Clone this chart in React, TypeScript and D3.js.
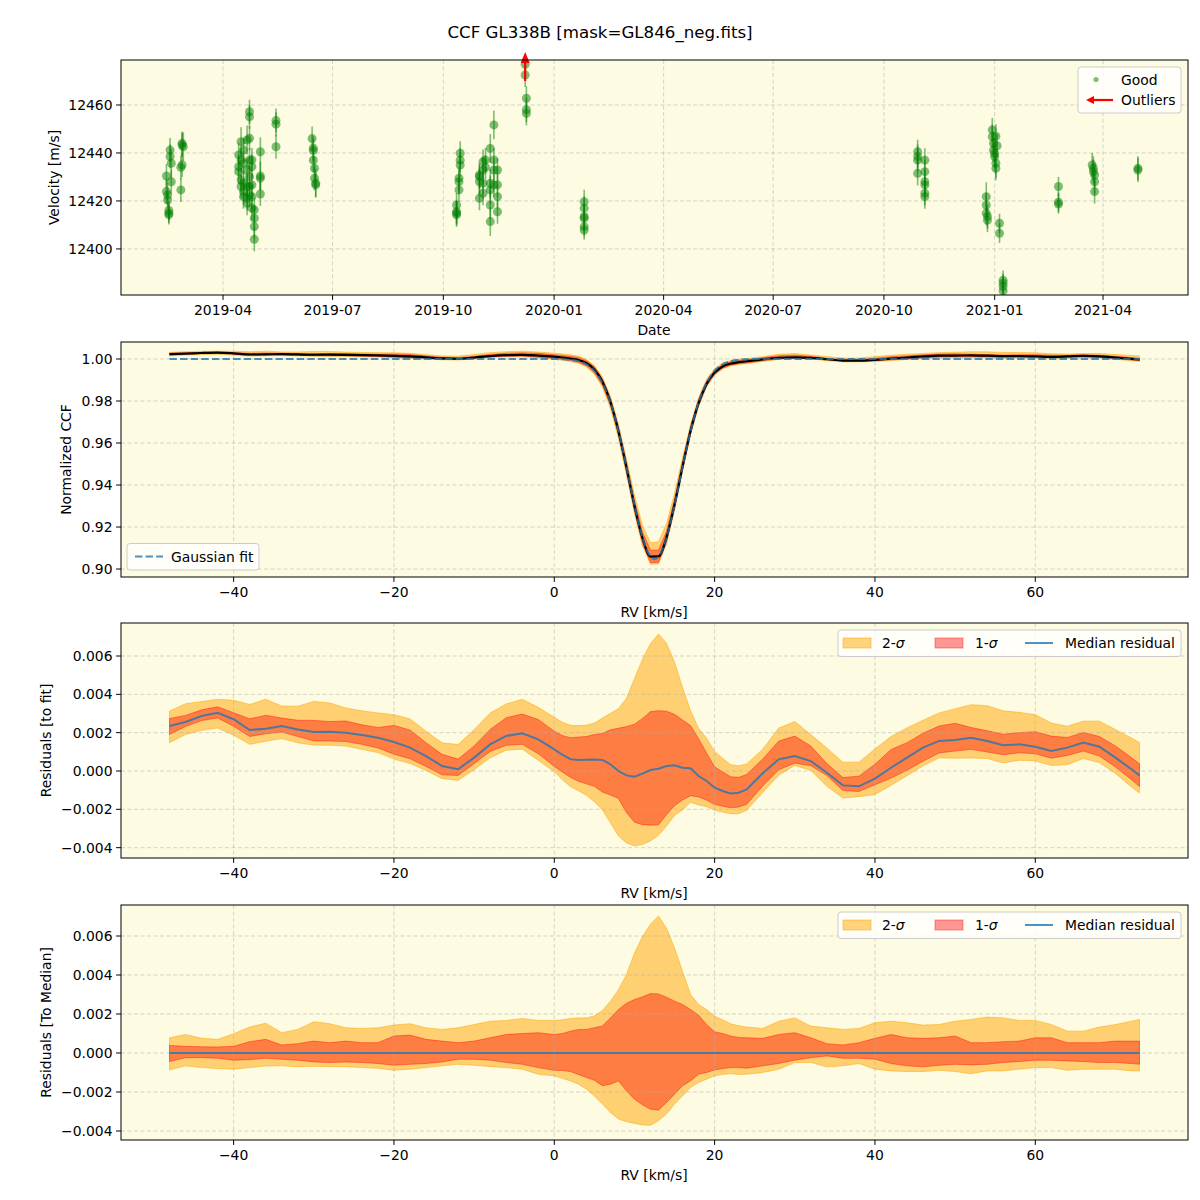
import React from "react";
import * as d3 from "d3";

// ---------------- DATA ----------------
const TITLE = "CCF GL338B [mask=GL846_neg.fits]";

// Panel 1: [date, velocity m/s, error m/s]
const GOOD_POINTS: [string, number, number][] = [
  ["2019-02-13", 12430.4, 5], ["2019-02-13", 12423.9, 5], ["2019-02-14", 12422.5, 5], ["2019-02-14", 12420.4, 4],
  ["2019-02-15", 12414.9, 4], ["2019-02-15", 12414.2, 4], ["2019-02-15", 12416.0, 4], ["2019-02-16", 12441.2, 5],
  ["2019-02-16", 12438.5, 5], ["2019-02-17", 12435.7, 6], ["2019-02-17", 12428.0, 5],
  ["2019-02-26", 12444.0, 5], ["2019-02-26", 12443.3, 5], ["2019-02-27", 12442.6, 6], ["2019-02-26", 12435.0, 5],
  ["2019-02-25", 12434.0, 5], ["2019-02-25", 12424.6, 5],
  ["2019-04-14", 12439.2, 5], ["2019-04-14", 12434.3, 5], ["2019-04-14", 12432.2, 5], ["2019-04-16", 12444.7, 6],
  ["2019-04-16", 12437.1, 5], ["2019-04-16", 12428.8, 5], ["2019-04-16", 12426.0, 5], ["2019-04-18", 12441.2, 5],
  ["2019-04-18", 12435.7, 5], ["2019-04-18", 12427.4, 5], ["2019-04-18", 12423.9, 5], ["2019-04-18", 12421.8, 5],
  ["2019-04-21", 12445.4, 6], ["2019-04-21", 12432.9, 5], ["2019-04-21", 12426.0, 5], ["2019-04-21", 12421.1, 5],
  ["2019-04-21", 12419.0, 5], ["2019-04-23", 12457.2, 5], ["2019-04-23", 12455.1, 5], ["2019-04-23", 12446.1, 5],
  ["2019-04-23", 12437.1, 5], ["2019-04-23", 12430.1, 5], ["2019-04-23", 12426.0, 5], ["2019-04-23", 12422.5, 5],
  ["2019-04-25", 12437.1, 5], ["2019-04-25", 12434.3, 5], ["2019-04-25", 12426.7, 5], ["2019-04-25", 12421.8, 5],
  ["2019-04-25", 12417.0, 5], ["2019-04-27", 12416.3, 5], ["2019-04-27", 12412.8, 5], ["2019-04-27", 12409.3, 5],
  ["2019-04-27", 12404.0, 5], ["2019-05-02", 12440.5, 6], ["2019-05-02", 12430.4, 6], ["2019-05-02", 12429.5, 5],
  ["2019-05-02", 12422.9, 5],
  ["2019-05-15", 12453.5, 5], ["2019-05-15", 12452.0, 5], ["2019-05-15", 12442.6, 5],
  ["2019-06-14", 12446.0, 5], ["2019-06-15", 12442.0, 5], ["2019-06-15", 12441.0, 5], ["2019-06-15", 12437.0, 5],
  ["2019-06-16", 12433.6, 5], ["2019-06-16", 12429.5, 5], ["2019-06-17", 12427.4, 6], ["2019-06-17", 12426.7, 5],
  ["2019-10-12", 12418.3, 5], ["2019-10-12", 12415.5, 5], ["2019-10-12", 12414.9, 5], ["2019-10-12", 12414.2, 5],
  ["2019-10-15", 12439.9, 5], ["2019-10-15", 12437.0, 5], ["2019-10-15", 12435.0, 5], ["2019-10-14", 12429.5, 5],
  ["2019-10-14", 12428.0, 5], ["2019-10-14", 12424.6, 5],
  ["2019-10-31", 12430.8, 5], ["2019-10-31", 12430.1, 5], ["2019-10-31", 12428.0, 5], ["2019-10-31", 12421.1, 5],
  ["2019-11-03", 12436.4, 5], ["2019-11-03", 12432.9, 5], ["2019-11-03", 12427.4, 5], ["2019-11-03", 12423.2, 5],
  ["2019-11-05", 12437.1, 5], ["2019-11-05", 12434.0, 5], ["2019-11-09", 12441.9, 6], ["2019-11-09", 12427.4, 6],
  ["2019-11-09", 12424.6, 6], ["2019-11-09", 12418.3, 6], ["2019-11-09", 12411.4, 6], ["2019-11-12", 12451.7, 6],
  ["2019-11-12", 12437.1, 5], ["2019-11-12", 12432.9, 5], ["2019-11-12", 12426.7, 5], ["2019-11-15", 12432.9, 5],
  ["2019-11-15", 12426.7, 5], ["2019-11-15", 12421.8, 5], ["2019-11-15", 12415.5, 5],
  ["2019-12-08", 12477.0, 5], ["2019-12-08", 12472.5, 5], ["2019-12-09", 12462.8, 5], ["2019-12-09", 12458.0, 5],
  ["2019-12-09", 12456.5, 5],
  ["2020-01-26", 12419.7, 5], ["2020-01-26", 12417.0, 5], ["2020-01-26", 12413.5, 5], ["2020-01-26", 12412.8, 5],
  ["2020-01-26", 12409.3, 4], ["2020-01-26", 12407.9, 4],
  ["2020-10-29", 12440.5, 5], ["2020-10-29", 12438.5, 5], ["2020-10-29", 12437.0, 5], ["2020-10-29", 12431.5, 5],
  ["2020-11-04", 12437.0, 5], ["2020-11-04", 12432.2, 5], ["2020-11-04", 12428.0, 5], ["2020-11-04", 12426.7, 5],
  ["2020-11-04", 12423.2, 5], ["2020-11-04", 12421.8, 5],
  ["2020-12-25", 12421.8, 6], ["2020-12-25", 12418.3, 5], ["2020-12-25", 12414.9, 5], ["2020-12-26", 12413.5, 5],
  ["2020-12-26", 12412.0, 5],
  ["2020-12-30", 12449.6, 5], ["2020-12-30", 12446.8, 5], ["2020-12-31", 12444.0, 5], ["2020-12-31", 12441.2, 5],
  ["2021-01-01", 12439.9, 6], ["2021-01-01", 12438.5, 6], ["2021-01-02", 12435.7, 6], ["2021-01-02", 12433.6, 5],
  ["2021-01-02", 12447.0, 5], ["2021-01-03", 12443.0, 5],
  ["2021-01-05", 12410.7, 4], ["2021-01-05", 12406.5, 4],
  ["2021-01-08", 12387.0, 4], ["2021-01-08", 12385.7, 4], ["2021-01-08", 12384.3, 4], ["2021-01-08", 12382.5, 4],
  ["2021-02-23", 12426.0, 4], ["2021-02-23", 12418.7, 4], ["2021-02-23", 12419.5, 4],
  ["2021-03-24", 12433.6, 5], ["2021-03-24", 12432.2, 5], ["2021-03-25", 12430.8, 5], ["2021-03-25", 12428.0, 5],
  ["2021-03-25", 12423.9, 5], ["2021-03-23", 12435.0, 5],
  ["2021-04-30", 12433.6, 5], ["2021-04-30", 12432.9, 5],
];
// outliers beyond the top of the plot: [date, arrow tail velocity]
const OUTLIERS: [string, number][] = [["2019-12-08", 12470]];

const DATE_DOMAIN: [Date, Date] = [new Date(Date.UTC(2019, 0, 6, 6)), new Date(Date.UTC(2021, 5, 10, 14))];
const DATE_TICKS = ["2019-04", "2019-07", "2019-10", "2020-01", "2020-04", "2020-07", "2020-10", "2021-01", "2021-04"];
const VEL_DOMAIN = [12380.8, 12478.75];
const VEL_TICKS = [12400, 12420, 12440, 12460];

// RV grid (km/s)
const RV = [-48, -46, -44, -42, -40, -38, -36, -34, -32, -30, -28, -26, -24, -22, -20, -18, -16, -14, -12, -10, -8, -6, -4, -2,
  0, 1, 2, 3, 4, 5, 6, 7, 8, 9, 10, 11, 12, 13, 14, 15, 16, 17, 18, 19, 20, 21, 22, 23, 24,
  26, 28, 30, 32, 34, 36, 38, 40, 42, 44, 46, 48, 50, 52, 54, 56, 58, 60, 62, 64, 66, 68, 70, 72, 73];
// median residual to fit
const MED = [0.00235, 0.00256, 0.00287, 0.00304, 0.0027, 0.00214, 0.00221, 0.00235, 0.00217, 0.00203, 0.00205, 0.002,
  0.00188, 0.00174, 0.00151, 0.00122, 0.00078, 0.00026, 0.00009, 0.0007, 0.00139, 0.00183, 0.00197, 0.00165,
  0.00113, 0.00085, 0.00062, 0.00057, 0.00059, 0.0006, 0.00058, 0.00035, 0.0, -0.00023, -0.0003, -0.00014, 0.00005,
  0.00012, 0.00026, 0.0003, 0.00017, 0.00014, -0.00026, -0.00052, -0.00087, -0.00104, -0.00117, -0.00113, -0.00096,
  -0.00012, 0.00061, 0.00078, 0.00052, -0.00009, -0.00075, -0.0008, -0.0004, 0.00017, 0.0007, 0.00122, 0.00157,
  0.00162, 0.00174, 0.00157, 0.00134, 0.00139, 0.00127, 0.00104, 0.00122, 0.00148, 0.00127, 0.0007, 0.00009, -0.00023];
// band edges relative to median
const SIG2_UP = [0.00078, 0.00095, 0.00075, 0.0007, 0.00099, 0.00133, 0.00153, 0.00104, 0.00121, 0.0016, 0.0015, 0.00129,
  0.00126, 0.00129, 0.00143, 0.0015, 0.00129, 0.00121, 0.00129, 0.00146, 0.00163, 0.00167, 0.00177, 0.00167,
  0.00167, 0.0017, 0.00177, 0.0018, 0.0018, 0.0019, 0.00218, 0.00266, 0.00325, 0.00402, 0.00512, 0.00597, 0.0066,
  0.00703, 0.0064, 0.00538, 0.00419, 0.003, 0.00249, 0.00223, 0.00189, 0.0017, 0.0015, 0.0014, 0.00133,
  0.00126, 0.00163, 0.0018, 0.00138, 0.00129, 0.00121, 0.00126, 0.00155, 0.00163, 0.00155, 0.00143, 0.00146,
  0.00163, 0.00172, 0.00184, 0.0018, 0.00167, 0.00167, 0.00146, 0.00112, 0.00112, 0.00133, 0.00146, 0.00163, 0.00172];
const SIG1_UP = [0.00039, 0.00034, 0.00032, 0.00031, 0.00034, 0.00058, 0.0007, 0.00041, 0.00048, 0.00061, 0.00053, 0.00061,
  0.00053, 0.00053, 0.00087, 0.00092, 0.0007, 0.00061, 0.00053, 0.00061, 0.00078, 0.00095, 0.001, 0.00104,
  0.00095, 0.001, 0.00112, 0.0012, 0.00121, 0.0013, 0.00138, 0.0018, 0.00223, 0.00255, 0.00274, 0.00288, 0.00305,
  0.00303, 0.00286, 0.00266, 0.00249, 0.00223, 0.00194, 0.00146, 0.00109, 0.001, 0.00087, 0.0008, 0.00078,
  0.00075, 0.00095, 0.00104, 0.00078, 0.00048, 0.00041, 0.00053, 0.00075, 0.00095, 0.00078, 0.00075, 0.00078,
  0.00087, 0.00053, 0.00053, 0.00058, 0.00061, 0.00078, 0.00078, 0.00053, 0.00053, 0.00053, 0.00061, 0.00061, 0.00061];
const SIG1_DN = [-0.00044, -0.00024, -0.00024, -0.00027, -0.00037, -0.00034, -0.00027, -0.00032, -0.00037, -0.00046, -0.00049, -0.00046,
  -0.00049, -0.00054, -0.00063, -0.00058, -0.00054, -0.00046, -0.00032, -0.00032, -0.00037, -0.00049, -0.00058, -0.00075,
  -0.00089, -0.0009, -0.00095, -0.0011, -0.00126, -0.0014, -0.00168, -0.0016, -0.00143, -0.00194, -0.00237, -0.00266, -0.00288,
  -0.00293, -0.00254, -0.00211, -0.00168, -0.00143, -0.00109, -0.001, -0.00087, -0.0008, -0.00075, -0.00075, -0.00078,
  -0.00066, -0.00054, -0.00037, -0.00024, -0.00015, -0.00027, -0.00027, -0.00032, -0.00054, -0.00066, -0.00071, -0.00063,
  -0.00058, -0.00061, -0.00058, -0.00049, -0.00044, -0.00037, -0.00037, -0.00041, -0.00044, -0.00049, -0.00049, -0.00054, -0.00058];
const SIG2_DN = [-0.00087, -0.00066, -0.00075, -0.0008, -0.00083, -0.00075, -0.00066, -0.00066, -0.0007, -0.00068, -0.0007, -0.0007,
  -0.00075, -0.00078, -0.00089, -0.00083, -0.00075, -0.00066, -0.00058, -0.00063, -0.0007, -0.00075, -0.00083, -0.00109,
  -0.00117, -0.0013, -0.00143, -0.0016, -0.00186, -0.0022, -0.00262, -0.00305, -0.00339, -0.00352, -0.00361, -0.00369, -0.0037,
  -0.00347, -0.00313, -0.00262, -0.0022, -0.00177, -0.00151, -0.00134, -0.00117, -0.0011, -0.00106, -0.0011, -0.00109,
  -0.001, -0.00083, -0.00049, -0.00049, -0.00071, -0.00066, -0.00054, -0.00083, -0.00092, -0.00095, -0.00095, -0.00089,
  -0.00095, -0.00106, -0.00092, -0.00092, -0.00083, -0.00075, -0.00075, -0.00089, -0.00083, -0.00083, -0.00083, -0.00092, -0.00092];

// Gaussian fit parameters
const FIT_BASELINE = 1.0;
const FIT_DEPTH = 0.0953;
const FIT_CENTER = 12.5;
const FIT_SIGMA = 3.15;

const RV_DOMAIN = [-54.05, 79.05];
const RV_TICKS = [-40, -20, 0, 20, 40, 60];
const CCF_DOMAIN = [0.8962, 1.0081];
const CCF_TICKS = [0.9, 0.92, 0.94, 0.96, 0.98, 1.0];
const RES_DOMAIN = [-0.004539, 0.007722];
const RESM_DOMAIN = [-0.004462, 0.00759];
const RES_TICKS = [-0.004, -0.002, 0, 0.002, 0.004, 0.006];

// ---------------- STYLE ----------------
const FONT = "DejaVu Sans";
const BG = "#fdfbe2";
const GRID = "#b0b0b0";
const FS = 13.9;

const L = 121, R = 1188, PH = 235;
const TOPS = [60, 342, 623, 905];

const minus = (s: string) => s.replace(/-/g, "\u2212");

function gauss(v: number) {
  return FIT_BASELINE - FIT_DEPTH * Math.exp(-((v - FIT_CENTER) ** 2) / (2 * FIT_SIGMA ** 2));
}

type Scale = (v: number) => number;

function Frame({ top, yScale, yTicks, yFmt, xTicks, xPos, xFmt, clipId, children }: any) {
  const bottom = top + PH;
  return (
    <g>
      {children}
      {/* spines */}
      <rect x={L} y={top} width={R - L} height={PH} fill="none" stroke="#000" strokeWidth={1} />
      {yTicks.map((t: number) => (
        <g key={"y" + t}>
          <line x1={L - 4.9} x2={L} y1={yScale(t)} y2={yScale(t)} stroke="#000" strokeWidth={1} />
          <text x={L - 8.5} y={yScale(t)} textAnchor="end" dominantBaseline="central" fontFamily={FONT} fontSize={FS}>
            {yFmt(t)}
          </text>
        </g>
      ))}
      {xTicks.map((t: any, i: number) => (
        <g key={"x" + i}>
          <line x1={xPos(t)} x2={xPos(t)} y1={bottom} y2={bottom + 4.9} stroke="#000" strokeWidth={1} />
          <text x={xPos(t)} y={bottom + 19.5} textAnchor="middle" fontFamily={FONT} fontSize={FS}>
            {xFmt(t)}
          </text>
        </g>
      ))}
    </g>
  );
}

function GridLines({ top, yScale, yTicks, xTicks, xPos }: any) {
  const bottom = top + PH;
  return (
    <g stroke={GRID} strokeOpacity={0.65} strokeWidth={0.8} strokeDasharray="4,2.5">
      {xTicks.map((t: any, i: number) => (
        <line key={"gx" + i} x1={xPos(t)} x2={xPos(t)} y1={top} y2={bottom} />
      ))}
      {yTicks.map((t: number) => (
        <line key={"gy" + t} x1={L} x2={R} y1={yScale(t)} y2={yScale(t)} />
      ))}
    </g>
  );
}

function Bands({ x, y, lo2, hi2, lo1, hi1 }: any) {
  const a2 = d3.area<number>().x((_, i) => x(RV[i])).y0((_, i) => y(lo2[i])).y1((_, i) => y(hi2[i]));
  const a1 = d3.area<number>().x((_, i) => x(RV[i])).y0((_, i) => y(lo1[i])).y1((_, i) => y(hi1[i]));
  return (
    <g>
      <path d={a2(RV) || ""} fill="orange" fillOpacity={0.5} stroke="orange" strokeOpacity={0.5} strokeWidth={1} />
      <path d={a1(RV) || ""} fill="red" fillOpacity={0.4} stroke="red" strokeOpacity={0.4} strokeWidth={1} />
    </g>
  );
}

function SigmaLegend({ top }: { top: number }) {
  const x0 = 838, y0 = top + 7, cy = y0 + 13;
  return (
    <g fontFamily={FONT} fontSize={FS}>
      <rect x={x0} y={y0} width={343} height={26.5} rx={3} fill="#fff" fillOpacity={0.8} stroke="#cccccc" strokeWidth={1} />
      <rect x={843} y={cy - 5} width={28} height={10} fill="orange" fillOpacity={0.5} stroke="orange" strokeOpacity={0.5} />
      <text x={882} y={cy} dominantBaseline="central">2-<tspan fontStyle="italic">σ</tspan></text>
      <rect x={935} y={cy - 5} width={28} height={10} fill="red" fillOpacity={0.4} stroke="red" strokeOpacity={0.4} />
      <text x={975} y={cy} dominantBaseline="central">1-<tspan fontStyle="italic">σ</tspan></text>
      <line x1={1025} x2={1053} y1={cy} y2={cy} stroke="#1f77b4" strokeOpacity={0.8} strokeWidth={2} />
      <text x={1065} y={cy} dominantBaseline="central">Median residual</text>
    </g>
  );
}

export default function App() {
  const parse = d3.utcParse("%Y-%m-%d");
  const parseM = d3.utcParse("%Y-%m");
  const xDate = d3.scaleUtc().domain(DATE_DOMAIN).range([L, R]);
  const xRV = d3.scaleLinear().domain(RV_DOMAIN).range([L, R]);

  const y1 = d3.scaleLinear().domain(VEL_DOMAIN).range([TOPS[0] + PH, TOPS[0]]);
  const y2 = d3.scaleLinear().domain(CCF_DOMAIN).range([TOPS[1] + PH, TOPS[1]]);
  const y3 = d3.scaleLinear().domain(RES_DOMAIN).range([TOPS[2] + PH, TOPS[2]]);
  const y4 = d3.scaleLinear().domain(RESM_DOMAIN).range([TOPS[3] + PH, TOPS[3]]);

  const dateTicks = DATE_TICKS.map((s) => parseM(s) as Date);
  const datePos = (d: Date) => xDate(d);
  const rvPos = (v: number) => xRV(v);

  const fmtRV = (v: number) => minus(String(v));
  const fmtCCF = (v: number) => d3.format(".2f")(v);
  const fmtRes = (v: number) => minus(d3.format(".3f")(v));

  // Panel 2 derived curves
  const fitGrid = d3.range(-48, 73.001, 0.25);
  const ccfMed = RV.map((v, i) => gauss(v) + MED[i]);
  const ccfHi2 = RV.map((v, i) => gauss(v) + MED[i] + SIG2_UP[i]);
  const ccfLo2 = RV.map((v, i) => gauss(v) + MED[i] + SIG2_DN[i]);
  const ccfHi1 = RV.map((v, i) => gauss(v) + MED[i] + SIG1_UP[i]);
  const ccfLo1 = RV.map((v, i) => gauss(v) + MED[i] + SIG1_DN[i]);

  // Panel 3
  const rHi2 = RV.map((_, i) => MED[i] + SIG2_UP[i]);
  const rLo2 = RV.map((_, i) => MED[i] + SIG2_DN[i]);
  const rHi1 = RV.map((_, i) => MED[i] + SIG1_UP[i]);
  const rLo1 = RV.map((_, i) => MED[i] + SIG1_DN[i]);

  const lineRV = (y: Scale, vals: number[], curve: any = d3.curveLinear) =>
    d3.line<number>().x((_, i) => xRV(RV[i])).y((_, i) => y(vals[i])).curve(curve)(RV) || "";

  const fitLine = d3.line<number>().x((v) => xRV(v)).y((v) => y2(gauss(v)))(fitGrid) || "";
  const zeroLine = d3.line<number>().x((v) => xRV(v)).y(() => y4(0))(RV) || "";

  const clip = (i: number) => `url(#clip${i})`;

  return (
    <svg width={1200} height={1200} viewBox="0 0 1200 1200"
      style={{ position: "absolute", left: 0, top: 0, background: "#fff" }}>
      <defs>
        {TOPS.map((t, i) => (
          <clipPath id={`clip${i}`} key={i}>
            <rect x={L} y={t} width={R - L} height={PH} />
          </clipPath>
        ))}
      </defs>
      <rect x={0} y={0} width={1200} height={1200} fill="#fff" />
      <text x={600} y={38} textAnchor="middle" fontFamily={FONT} fontSize={16.67}>{TITLE}</text>

      {/* ---------- Panel 1 ---------- */}
      <rect x={L} y={TOPS[0]} width={R - L} height={PH} fill={BG} />
      <GridLines top={TOPS[0]} yScale={y1} yTicks={VEL_TICKS} xTicks={dateTicks} xPos={datePos} />
      <g clipPath={clip(0)}>
        {GOOD_POINTS.map(([d, v, e], i) => {
          const px = xDate(parse(d) as Date);
          return (
            <g key={i}>
              <line x1={px} x2={px} y1={y1(v - e)} y2={y1(v + e)} stroke="green" strokeOpacity={0.5} strokeWidth={1.6} />
              <circle cx={px} cy={y1(v)} r={4.5} fill="green" fillOpacity={0.5} />
            </g>
          );
        })}
      </g>
      {OUTLIERS.map(([d, v], i) => {
        const px = xDate(parse(d) as Date);
        const yt = TOPS[0];
        return (
          <g key={"o" + i}>
            <line x1={px} x2={px} y1={y1(v)} y2={yt + 2} stroke="red" strokeWidth={2.2} />
            <path d={`M${px},${yt - 8} L${px - 4.5},${yt + 3} L${px + 4.5},${yt + 3} Z`} fill="red" />
          </g>
        );
      })}
      <Frame top={TOPS[0]} yScale={y1} yTicks={VEL_TICKS} yFmt={(v: number) => String(v)}
        xTicks={dateTicks} xPos={datePos} xFmt={(d: Date) => d3.utcFormat("%Y-%m")(d)} />
      {/* legend */}
      <g fontFamily={FONT} fontSize={FS}>
        <rect x={1078} y={67} width={103} height={46} rx={3} fill="#fff" fillOpacity={0.8} stroke="#cccccc" strokeWidth={1} />
        <circle cx={1096} cy={79.5} r={2.6} fill="green" fillOpacity={0.5} />
        <text x={1121} y={79.5} dominantBaseline="central">Good</text>
        <line x1={1113} x2={1093} y1={100} y2={100} stroke="red" strokeWidth={2.2} />
        <path d="M1086,100 L1094,96 L1094,104 Z" fill="red" />
        <text x={1121} y={100} dominantBaseline="central">Outliers</text>
      </g>
      <text x={654} y={335} textAnchor="middle" fontFamily={FONT} fontSize={FS}>Date</text>
      <text transform={`translate(59,${TOPS[0] + PH / 2}) rotate(-90)`} textAnchor="middle" fontFamily={FONT} fontSize={FS}>Velocity [m/s]</text>

      {/* ---------- Panel 2 ---------- */}
      <rect x={L} y={TOPS[1]} width={R - L} height={PH} fill={BG} />
      <g clipPath={clip(1)}>
        <Bands x={xRV} y={y2} lo2={ccfLo2} hi2={ccfHi2} lo1={ccfLo1} hi1={ccfHi1} />
      </g>
      <GridLines top={TOPS[1]} yScale={y2} yTicks={CCF_TICKS} xTicks={RV_TICKS} xPos={rvPos} />
      <g clipPath={clip(1)}>
        <path d={lineRV(y2, ccfMed, d3.curveMonotoneX)} fill="none" stroke="#000" strokeWidth={2.2} />
        <path d={fitLine} fill="none" stroke="#1f77b4" strokeOpacity={0.8} strokeWidth={2} strokeDasharray="7.4,3.2" />
      </g>
      <Frame top={TOPS[1]} yScale={y2} yTicks={CCF_TICKS} yFmt={fmtCCF} xTicks={RV_TICKS} xPos={rvPos} xFmt={fmtRV} />
      <g fontFamily={FONT} fontSize={FS}>
        <rect x={127} y={543.5} width={132} height={26.5} rx={3} fill="#fff" fillOpacity={0.8} stroke="#cccccc" strokeWidth={1} />
        <line x1={135} x2={163} y1={556.5} y2={556.5} stroke="#1f77b4" strokeOpacity={0.8} strokeWidth={2} strokeDasharray="7.4,3.2" />
        <text x={171} y={556.5} dominantBaseline="central">Gaussian fit</text>
      </g>
      <text x={654} y={617} textAnchor="middle" fontFamily={FONT} fontSize={FS}>RV [km/s]</text>
      <text transform={`translate(71,${TOPS[1] + PH / 2}) rotate(-90)`} textAnchor="middle" fontFamily={FONT} fontSize={FS}>Normalized CCF</text>

      {/* ---------- Panel 3 ---------- */}
      <rect x={L} y={TOPS[2]} width={R - L} height={PH} fill={BG} />
      <g clipPath={clip(2)}>
        <Bands x={xRV} y={y3} lo2={rLo2} hi2={rHi2} lo1={rLo1} hi1={rHi1} />
      </g>
      <GridLines top={TOPS[2]} yScale={y3} yTicks={RES_TICKS} xTicks={RV_TICKS} xPos={rvPos} />
      <g clipPath={clip(2)}>
        <path d={lineRV(y3, MED)} fill="none" stroke="#1f77b4" strokeOpacity={0.8} strokeWidth={2} />
      </g>
      <Frame top={TOPS[2]} yScale={y3} yTicks={RES_TICKS} yFmt={fmtRes} xTicks={RV_TICKS} xPos={rvPos} xFmt={fmtRV} />
      <SigmaLegend top={TOPS[2]} />
      <text x={654} y={898} textAnchor="middle" fontFamily={FONT} fontSize={FS}>RV [km/s]</text>
      <text transform={`translate(51,${TOPS[2] + PH / 2}) rotate(-90)`} textAnchor="middle" fontFamily={FONT} fontSize={FS}>Residuals [to fit]</text>

      {/* ---------- Panel 4 ---------- */}
      <rect x={L} y={TOPS[3]} width={R - L} height={PH} fill={BG} />
      <g clipPath={clip(3)}>
        <Bands x={xRV} y={y4} lo2={SIG2_DN} hi2={SIG2_UP} lo1={SIG1_DN} hi1={SIG1_UP} />
      </g>
      <GridLines top={TOPS[3]} yScale={y4} yTicks={RES_TICKS} xTicks={RV_TICKS} xPos={rvPos} />
      <g clipPath={clip(3)}>
        <path d={zeroLine} fill="none" stroke="#1f77b4" strokeOpacity={0.8} strokeWidth={2} />
      </g>
      <Frame top={TOPS[3]} yScale={y4} yTicks={RES_TICKS} yFmt={fmtRes} xTicks={RV_TICKS} xPos={rvPos} xFmt={fmtRV} />
      <SigmaLegend top={TOPS[3]} />
      <text x={654} y={1180} textAnchor="middle" fontFamily={FONT} fontSize={FS}>RV [km/s]</text>
      <text transform={`translate(51,${TOPS[3] + PH / 2}) rotate(-90)`} textAnchor="middle" fontFamily={FONT} fontSize={FS}>Residuals [To Median]</text>
    </svg>
  );
}
